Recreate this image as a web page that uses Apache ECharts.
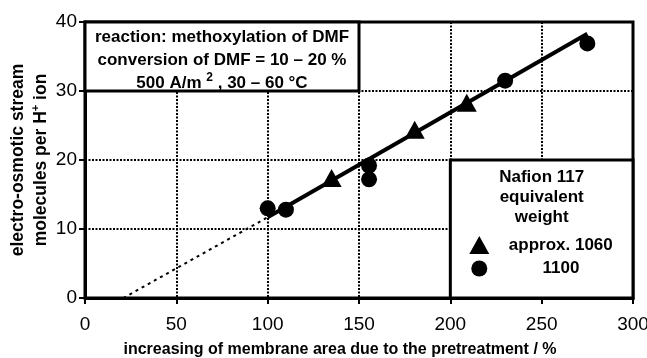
<!DOCTYPE html>
<html>
<head>
<meta charset="utf-8">
<script src="https://cdn.jsdelivr.net/npm/echarts@6/dist/echarts.min.js"></script>
<style>
html,body{margin:0;padding:0;background:#fff;}
#c{width:647px;height:358px;}
</style>
</head>
<body>
<div id="c"></div>
<script>
// ---- data ----
const seriesNames = ['approx. 1060', '1100'];
const triX = [135, 180.5, 209];
const triY = [17.4, 24.4, 28.3];
const cirX = [100, 110, 155.5, 155.5, 230, 275];
const cirY = [13, 12.8, 19.2, 17.2, 31.5, 36.9];
const fitSolidX = [100, 275];
const fitSolidY = [11.7, 38.3];
const fitDashX = [21, 100];
const fitDashY = [0, 11.7];
const xTicks = [0, 50, 100, 150, 200, 250, 300];
const yTicks = [0, 10, 20, 30, 40];
const noteLines = ['reaction: methoxylation of DMF', 'conversion of DMF = 10 \u2013 20 %', '500 A/m {sup|2} , 30 \u2013 60 \u00B0C'];
const legendTitle = ['Nafion 117', 'equivalent', 'weight'];
const xTitle = 'increasing of membrane area due to the pretreatment / %';
const yTitle = ['electro-osmotic stream', 'molecules per H{sup|+} ion'];
// box extents in data coordinates
const noteBox = [[0, 30], [150, 40]];
const legendBox = [[200, 0], [300, 20]];

const FONT = '"Liberation Sans", Arial, Helvetica, sans-serif';
const zip = (a, b) => a.map((v, i) => [v, b[i]]);

const chart = echarts.init(document.getElementById('c'));
chart.setOption({
  animation: false,
  backgroundColor: '#fff',
  textStyle: { fontFamily: FONT, color: '#000' },
  grid: { left: 85, right: 14, top: 22, bottom: 60, outerBoundsMode: 'none', containLabel: false,
    show: true, borderColor: '#000', borderWidth: 3, backgroundColor: 'transparent' },
  xAxis: {
    type: 'value', min: xTicks[0], max: xTicks[xTicks.length - 1], interval: 50,
    axisLine: { show: true, onZero: false, lineStyle: { color: '#000', width: 3 } },
    axisTick: { show: true, inside: false, length: 6, lineStyle: { color: '#000', width: 2 } },
    axisLabel: { color: '#000', fontFamily: FONT, fontSize: 19, margin: 17 },
    splitLine: { show: true, lineStyle: { color: '#000', width: 2, type: [2, 1.5] } },
    name: xTitle, nameLocation: 'middle', nameGap: 44, nameMoveOverlap: false,
    nameTextStyle: { color: '#000', fontFamily: FONT, fontSize: 16, fontWeight: 'bold', padding: [0, 38, 0, 0] }
  },
  yAxis: {
    type: 'value', min: yTicks[0], max: yTicks[yTicks.length - 1], interval: 10,
    axisLine: { show: true, onZero: false, lineStyle: { color: '#000', width: 3 } },
    axisTick: { show: true, inside: false, length: 6, lineStyle: { color: '#000', width: 2 } },
    axisLabel: { color: '#000', fontFamily: FONT, fontSize: 19, margin: 8 },
    splitLine: { show: true, lineStyle: { color: '#000', width: 2, type: [2, 1.5] } },
    name: yTitle.join('\n'), nameLocation: 'middle', nameGap: 32, nameRotate: 90, nameMoveOverlap: false,
    nameTextStyle: {
      color: '#000', fontFamily: FONT, fontSize: 17.5, fontWeight: 'bold', lineHeight: 23, align: 'center',
      rich: { sup: { fontSize: 11, fontWeight: 'bold', fontFamily: FONT, verticalAlign: 'top', lineHeight: 23, padding: [0, 0, 8, 0] } }
    }
  },
  legend: [
    {
      data: [seriesNames[0]], orient: 'vertical', left: 469.3, top: 236,
      itemWidth: 20, itemHeight: 18, itemGap: 0, padding: 0,
      formatter: n => '{c|' + n + '}',
      textStyle: { fontFamily: FONT, fontSize: 17, fontWeight: 'bold', color: '#000',
        rich: { c: { width: 133, align: 'center', fontFamily: FONT, fontSize: 17, fontWeight: 'bold' } } },
      selectedMode: false, z: 10
    },
    {
      data: [seriesNames[1]], orient: 'vertical', left: 471.3, top: 260,
      itemWidth: 16, itemHeight: 16, itemGap: 0, padding: 0,
      formatter: n => '{c|' + n + '}',
      textStyle: { fontFamily: FONT, fontSize: 17, fontWeight: 'bold', color: '#000',
        rich: { c: { width: 137.4, align: 'center', fontFamily: FONT, fontSize: 17, fontWeight: 'bold' } } },
      selectedMode: false, z: 10
    }
  ],
  series: [
    {
      type: 'line', name: 'boxes', data: [], silent: true, z: 3,
      markArea: {
        silent: true,
        itemStyle: { color: '#fff', borderColor: '#000', borderWidth: 3 },
        data: [
          [
            { coord: noteBox[0], itemStyle: { color: '#fff', borderColor: '#000', borderWidth: 3 },
              label: { show: true, position: 'inside', formatter: noteLines.join('\n'), padding: [7, 0, 0, 0],
                fontFamily: FONT, fontSize: 17, fontWeight: 'bold', color: '#000', lineHeight: 23, align: 'center',
                rich: { sup: { fontSize: 12, fontWeight: 'bold', fontFamily: FONT, verticalAlign: 'top', lineHeight: 23, padding: [0, 0, 8, 0] } } } },
            { coord: noteBox[1] }
          ],
          [
            { coord: legendBox[0], itemStyle: { color: '#fff', borderColor: '#000', borderWidth: 3 },
              label: { show: true, position: 'insideTop', distance: 9, formatter: legendTitle.join('\n'),
                fontFamily: FONT, fontSize: 17, fontWeight: 'bold', color: '#000', lineHeight: 20, align: 'center' } },
            { coord: legendBox[1] }
          ]
        ]
      }
    },
    {
      type: 'line', name: 'fitDash', data: zip(fitDashX, fitDashY), showSymbol: false, symbol: 'none', z: 4,
      lineStyle: { color: '#000', width: 2, type: [3, 4] }, silent: true
    },
    {
      type: 'line', name: 'fitSolid', data: zip(fitSolidX, fitSolidY), showSymbol: false, symbol: 'none', z: 4,
      lineStyle: { color: '#000', width: 4 }, silent: true
    },
    {
      type: 'scatter', name: seriesNames[0], data: zip(triX, triY), symbol: 'triangle', symbolSize: [20, 18], z: 5,
      itemStyle: { color: '#000', opacity: 1 }
    },
    {
      type: 'scatter', name: seriesNames[1], data: zip(cirX, cirY), symbol: 'circle', symbolSize: 16, z: 5,
      itemStyle: { color: '#000', opacity: 1 }
    }
  ]
});
</script>
</body>
</html>
